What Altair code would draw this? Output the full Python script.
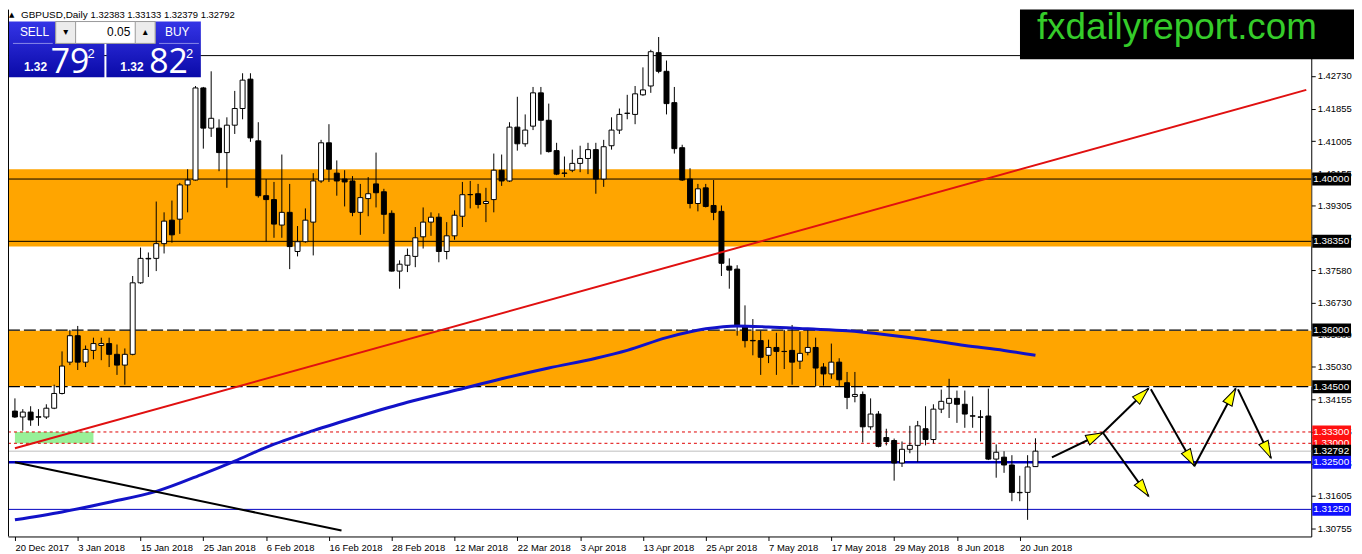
import math
import altair as alt
import pandas as pd

# ---------------- data ----------------
DATE_LABELS = ["20 Dec 2017", "3 Jan 2018", "15 Jan 2018", "25 Jan 2018", "6 Feb 2018",
               "16 Feb 2018", "28 Feb 2018", "12 Mar 2018", "22 Mar 2018", "3 Apr 2018",
               "13 Apr 2018", "25 Apr 2018", "7 May 2018", "17 May 2018", "29 May 2018",
               "8 Jun 2018", "20 Jun 2018"]
LABEL_STEP = 8

OPEN = [1.33853, 1.33697, 1.33827, 1.33690, 1.33697, 1.33930, 1.34320, 1.35150, 1.35850, 1.35150,
        1.35461, 1.35591, 1.35642, 1.35357, 1.35072, 1.35357, 1.37251, 1.37899, 1.37899, 1.38289,
        1.38911, 1.38937, 1.39845, 1.39974, 1.42413, 1.41349, 1.41349, 1.40701, 1.41427, 1.41868,
        1.42646, 1.41012, 1.39559, 1.39456, 1.38781, 1.39118, 1.38081, 1.38340, 1.38859, 1.39949,
        1.40960, 1.40156, 1.40000, 1.39949, 1.39118, 1.39482, 1.39871, 1.39663, 1.39092, 1.37562,
        1.37718, 1.37951, 1.38470, 1.38859, 1.38989, 1.38081, 1.38496, 1.39015, 1.39585, 1.39611,
        1.39352, 1.39456, 1.40234, 1.39949, 1.41375, 1.40934, 1.41401, 1.42283, 1.41557, 1.40753,
        1.40150, 1.40234, 1.40415, 1.40545, 1.40779, 1.40000, 1.40882, 1.41297, 1.41738, 1.41712,
        1.42231, 1.42465, 1.43347, 1.42854, 1.42024, 1.40830, 1.40000, 1.39352, 1.39767, 1.39300,
        1.39144, 1.37692, 1.37614, 1.36109, 1.35725, 1.35720, 1.35331, 1.35539, 1.35435, 1.35461,
        1.35176, 1.35409, 1.35539, 1.35020, 1.34838, 1.35150, 1.34605, 1.34242, 1.34294, 1.33437,
        1.33775, 1.33152, 1.33074, 1.32478, 1.32841, 1.32945, 1.33386, 1.33100, 1.33905, 1.34060,
        1.34190, 1.34034, 1.33728, 1.33700, 1.33723, 1.32582, 1.32633, 1.32426, 1.31700, 1.31700,
        1.32383]
HIGH = [1.34190, 1.33905, 1.33982, 1.33905, 1.34034, 1.34553, 1.35435, 1.36006, 1.36109, 1.35591,
        1.35798, 1.35798, 1.35798, 1.35617, 1.35513, 1.37432, 1.38185, 1.38055, 1.39404, 1.39118,
        1.39430, 1.39897, 1.40260, 1.42465, 1.42440, 1.42854, 1.41583, 1.41635, 1.42335, 1.42802,
        1.42802, 1.41505, 1.40000, 1.39923, 1.40649, 1.39871, 1.38755, 1.39222, 1.40156, 1.41038,
        1.41453, 1.40493, 1.40234, 1.40078, 1.39871, 1.40052, 1.40701, 1.39741, 1.39170, 1.37847,
        1.38159, 1.38729, 1.39248, 1.39118, 1.39092, 1.38859, 1.39170, 1.39923, 1.39949, 1.39871,
        1.39767, 1.40675, 1.40649, 1.41505, 1.42179, 1.41712, 1.42439, 1.42439, 1.41998, 1.40960,
        1.40597, 1.40779, 1.40882, 1.40960, 1.40960, 1.41038, 1.41635, 1.41868, 1.42231, 1.42465,
        1.42958, 1.43424, 1.43762, 1.43139, 1.42439, 1.40908, 1.40286, 1.39871, 1.39871, 1.39974,
        1.39300, 1.37899, 1.37718, 1.36654, 1.36291, 1.35980, 1.35746, 1.35928, 1.36006, 1.36135,
        1.35954, 1.36006, 1.35798, 1.35124, 1.35642, 1.35253, 1.34890, 1.34890, 1.34372, 1.34190,
        1.33853, 1.33386, 1.33126, 1.33048, 1.33463, 1.33593, 1.33982, 1.34034, 1.34423, 1.34709,
        1.34397, 1.34397, 1.34242, 1.33879, 1.34449, 1.32971, 1.32789, 1.32685, 1.32140, 1.32685,
        1.33133]
LOW = [1.33671, 1.33334, 1.33463, 1.33463, 1.33645, 1.33905, 1.34294, 1.35072, 1.34942, 1.35020,
       1.35227, 1.35201, 1.35020, 1.34812, 1.34553, 1.35331, 1.37225, 1.37406, 1.37562, 1.38029,
       1.38314, 1.38548, 1.39118, 1.39960, 1.40805, 1.41116, 1.40208, 1.39767, 1.41194, 1.41583,
       1.40986, 1.39508, 1.38340, 1.38444, 1.38444, 1.37614, 1.37951, 1.38314, 1.37977, 1.39897,
       1.39923, 1.39559, 1.39274, 1.39015, 1.38522, 1.39015, 1.39248, 1.38548, 1.37550, 1.37095,
       1.37536, 1.37666, 1.38159, 1.38496, 1.37795, 1.37873, 1.38392, 1.38729, 1.39222, 1.39222,
       1.38859, 1.39118, 1.39819, 1.39923, 1.40753, 1.40856, 1.41297, 1.40649, 1.40701, 1.40104,
       1.40052, 1.40182, 1.40182, 1.40130, 1.39611, 1.39793, 1.40779, 1.41194, 1.41583, 1.41453,
       1.42205, 1.42283, 1.42802, 1.41712, 1.40675, 1.39949, 1.39222, 1.39144, 1.39248, 1.38911,
       1.37432, 1.37095, 1.35850, 1.35539, 1.35331, 1.34812, 1.35124, 1.34812, 1.34968, 1.34553,
       1.34968, 1.35331, 1.34501, 1.34527, 1.34709, 1.34501, 1.33905, 1.34086, 1.33023, 1.33360,
       1.32893, 1.32945, 1.32011, 1.32374, 1.32737, 1.32504, 1.32945, 1.32997, 1.33801, 1.33671,
       1.33541, 1.33411, 1.33411, 1.33048, 1.32556, 1.32089, 1.32218, 1.31466, 1.31466, 1.30973,
       1.32379]
CLOSE = [1.33697, 1.33827, 1.33619, 1.33705, 1.33930, 1.34320, 1.35046, 1.35850, 1.35150, 1.35487,
         1.35642, 1.35642, 1.35357, 1.35072, 1.35357, 1.37251, 1.37899, 1.37885, 1.38289, 1.38885,
         1.38522, 1.39845, 1.39974, 1.42413, 1.41349, 1.41609, 1.40701, 1.41427, 1.41868, 1.42620,
         1.41090, 1.39559, 1.39456, 1.38807, 1.39118, 1.38211, 1.38340, 1.38911, 1.39949, 1.40960,
         1.40260, 1.39949, 1.39923, 1.39118, 1.39508, 1.39611, 1.39637, 1.39066, 1.37562, 1.37744,
         1.37977, 1.38444, 1.38859, 1.38989, 1.38081, 1.38496, 1.39041, 1.39585, 1.39590, 1.39326,
         1.39404, 1.40234, 1.39949, 1.41375, 1.40934, 1.41297, 1.42283, 1.41557, 1.40727, 1.40130,
         1.40160, 1.40415, 1.40545, 1.40779, 1.40000, 1.40856, 1.41297, 1.41712, 1.41745, 1.42257,
         1.42361, 1.43373, 1.42854, 1.41998, 1.40805, 1.39974, 1.39352, 1.39741, 1.39274, 1.39118,
         1.37769, 1.37588, 1.36109, 1.35720, 1.35715, 1.35279, 1.35539, 1.35435, 1.35430, 1.35150,
         1.35383, 1.35539, 1.34994, 1.34838, 1.35150, 1.34683, 1.34216, 1.34294, 1.33437, 1.33775,
         1.32919, 1.33048, 1.32478, 1.32841, 1.32945, 1.33463, 1.33100, 1.33905, 1.34112, 1.34190,
         1.34034, 1.33775, 1.33720, 1.33690, 1.32582, 1.32763, 1.32426, 1.31700, 1.31690, 1.32374,
         1.32792]

MA_BAR = [0, 6, 12, 18, 24, 28, 32, 38, 44, 50, 56, 62, 68, 74, 78, 83, 88, 92, 96, 101,
          106, 111, 116, 121, 126, 130]
MA_VAL = [1.30973, 1.31181, 1.31440, 1.31726, 1.32192, 1.32530, 1.32893, 1.33334, 1.33723, 1.34086,
          1.34397, 1.34709, 1.34994, 1.35253, 1.35461, 1.35798, 1.36032, 1.36109, 1.36083, 1.36032,
          1.35980, 1.35876, 1.35746, 1.35591, 1.35461, 1.35331]

TREND_BAR = [0, 164.5]
TREND_VAL = [1.32867, 1.42361]
DOWN_BAR = [0, 41.6]
DOWN_VAL = [1.3250, 1.3069]

ZONE_TOP = [1.4026, 1.3600]
ZONE_BOTTOM = [1.3821, 1.3450]
GREEN_BAR = [0, 10]
GREEN_VAL = [1.3330, 1.3300]

SOLID_LEVELS = [1.4327, 1.4000, 1.3835]
DASHED_LEVELS = [1.3600, 1.3450]
DOTTED_LEVELS = [1.3330, 1.3300]
CURRENT_PRICE = [1.32792]
SUPPORT_MAIN = [1.3250]
SUPPORT_LOW = [1.3125]

TAG_BLACK = [1.4000, 1.3835, 1.3600, 1.3450]
TAG_RED = [1.3330, 1.3300]
TAG_CURRENT = [1.32792]
TAG_BLUE = [1.3250, 1.3125]

Y_TICKS = [1.42730, 1.41855, 1.41005, 1.40155, 1.39305, 1.38455, 1.37580, 1.36730,
           1.35880, 1.35030, 1.34155, 1.33305, 1.32455, 1.31605, 1.30755]

ARROW_X0 = [132.1, 138.6, 138.6, 144.7, 150.25, 155.8]
ARROW_P0 = [1.3263, 1.3328, 1.3328, 1.3443, 1.3240, 1.3443]
ARROW_X1 = [138.6, 144.4, 144.4, 150.25, 155.5, 160.0]
ARROW_P1 = [1.3328, 1.3445, 1.3160, 1.3240, 1.3445, 1.3261]

TITLE_SYMBOL = "GBPUSD,Daily"
TITLE_QUOTES = "1.32383 1.33133 1.32379 1.32792"

# ---------------- layout ----------------
W, H = 1311, 530
X_DOMAIN = [-0.25, 164.5]
Y_DOMAIN = [1.30532, 1.44488]
PX_BAR = W / (X_DOMAIN[1] - X_DOMAIN[0])
PX_PRICE = H / (Y_DOMAIN[1] - Y_DOMAIN[0])

xs = alt.Scale(domain=X_DOMAIN, nice=False, zero=False)
ys = alt.Scale(domain=Y_DOMAIN, nice=False, zero=False)
FONT = "Liberation Sans"

label_expr = "[" + ",".join("'%s'" % s for s in DATE_LABELS) + "][round(datum.value/%d)]" % LABEL_STEP
x_axis = alt.Axis(orient="bottom", values=[i * LABEL_STEP for i in range(len(DATE_LABELS))],
                  labelExpr=label_expr, labelAlign="left", labelBaseline="top", labelPadding=2,
                  tickSize=4, title=None, labelOverlap=False, labelFlush=False, grid=False,
                  labelFont=FONT, labelFontSize=9.5, labelColor="black", domainColor="black",
                  tickColor="black")
y_axis = alt.Axis(orient="right", values=Y_TICKS, format=".5f", title=None, tickSize=4,
                  labelPadding=2, grid=False, labelFont=FONT, labelFontSize=9.5,
                  labelColor="black", domainColor="black", tickColor="black",
                  labelOverlap=False, labelFlush=False)


def X(f):
    return alt.X(f"{f}:Q", scale=xs, axis=x_axis)


def Y(f):
    return alt.Y(f"{f}:Q", scale=ys, axis=y_axis)


ONE = pd.DataFrame({"k": [0]})

candles = pd.DataFrame({"bar": list(range(len(OPEN))), "open": OPEN, "high": HIGH,
                        "low": LOW, "close": CLOSE})

layers = []

# orange zones
zones = pd.DataFrame({"top": ZONE_TOP, "bottom": ZONE_BOTTOM})
layers.append(alt.Chart(zones).mark_rect(color="#FFA500").encode(
    x=alt.value(0), x2=alt.value(W), y=Y("top"), y2=alt.Y2("bottom")))

# green zone
green = pd.DataFrame({"b0": [GREEN_BAR[0]], "b1": [GREEN_BAR[1]],
                      "p0": [GREEN_VAL[0]], "p1": [GREEN_VAL[1]]})
layers.append(alt.Chart(green).mark_rect(color="#98F098").encode(
    x=X("b0"), x2=alt.X2("b1"), y=Y("p0"), y2=alt.Y2("p1")))


def hlines(levels, **kw):
    df = pd.DataFrame({"price": levels})
    return alt.Chart(df).mark_rule(**kw).encode(x=alt.value(0), x2=alt.value(W), y=Y("price"))


layers.append(hlines(SOLID_LEVELS, color="black", strokeWidth=1))
layers.append(hlines(DASHED_LEVELS, color="white", strokeWidth=1.2))
layers.append(hlines(DASHED_LEVELS, color="black", strokeWidth=1.2, strokeDash=[12, 4]))
layers.append(hlines(DOTTED_LEVELS, color="#e00000", strokeWidth=1, strokeDash=[3, 3]))
layers.append(hlines(CURRENT_PRICE, color="#bdbdbd", strokeWidth=1))
layers.append(hlines(SUPPORT_MAIN, color="#0000c0", strokeWidth=2.5))
layers.append(hlines(SUPPORT_LOW, color="#0000c0", strokeWidth=1))

# candles
layers.append(alt.Chart(candles).mark_rule(color="black", strokeWidth=1).encode(
    x=X("bar"), y=Y("low"), y2=alt.Y2("high")))
layers.append(alt.Chart(candles).mark_bar(width=5, stroke="black", strokeWidth=1).encode(
    x=X("bar"), y=Y("open"), y2=alt.Y2("close"),
    fill=alt.condition("datum.close >= datum.open", alt.value("white"), alt.value("black"))))

# moving average, trend lines
ma = pd.DataFrame({"bar": MA_BAR, "val": MA_VAL})
layers.append(alt.Chart(ma).mark_line(color="#1212c8", strokeWidth=3, interpolate="monotone").encode(
    x=X("bar"), y=Y("val")))
trend = pd.DataFrame({"bar": TREND_BAR, "val": TREND_VAL})
layers.append(alt.Chart(trend).mark_line(color="#e01010", strokeWidth=2).encode(
    x=X("bar"), y=Y("val")))
down = pd.DataFrame({"bar": DOWN_BAR, "val": DOWN_VAL})
layers.append(alt.Chart(down).mark_line(color="black", strokeWidth=2).encode(
    x=X("bar"), y=Y("val")))

# arrows
HEAD_SIZE = 300
head_r = math.sqrt(HEAD_SIZE) / 2
rows = []
for x0, p0, x1, p1 in zip(ARROW_X0, ARROW_P0, ARROW_X1, ARROW_P1):
    dx = (x1 - x0) * PX_BAR
    dy = -(p1 - p0) * PX_PRICE
    ln = math.hypot(dx, dy)
    ux, uy = dx / ln, dy / ln
    ang = math.degrees(math.atan2(dx, -dy)) % 360
    rows.append({"x0": x0, "p0": p0, "x1": x1, "p1": p1,
                 "hx": x1 - head_r * ux / PX_BAR, "hp": p1 + head_r * uy / PX_PRICE,
                 "ang": ang})
arrows = pd.DataFrame(rows)
layers.append(alt.Chart(arrows).mark_rule(color="black", strokeWidth=2).encode(
    x=X("x0"), x2=alt.X2("x1"), y=Y("p0"), y2=alt.Y2("p1")))
layers.append(alt.Chart(arrows).mark_point(
    shape="M0,-1L0.6,1L-0.6,1Z", filled=True, fill="#FFFF00", stroke="black",
    strokeWidth=1, size=HEAD_SIZE, opacity=1).encode(
    x=X("hx"), y=Y("hp"), angle=alt.Angle("ang:Q", scale=None)))

# left border
layers.append(alt.Chart(ONE).mark_rule(color="black", strokeWidth=1).encode(
    x=alt.value(0.5), y=alt.value(0), y2=alt.value(H)))

# right price tags
TAG_HALF = 6.5 / PX_PRICE
tags = pd.DataFrame({
    "price": TAG_BLACK + TAG_RED + TAG_CURRENT + TAG_BLUE,
    "kind": (["line"] * len(TAG_BLACK) + ["alert"] * len(TAG_RED)
             + ["line"] * len(TAG_CURRENT) + ["support"] * len(TAG_BLUE)),
})
tags["top"] = tags["price"] + TAG_HALF
tags["bottom"] = tags["price"] - TAG_HALF
tags["label"] = tags["price"].map(lambda v: f"{v:.5f}")
tags["order"] = range(len(tags))
for _, r in tags.iterrows():
    one = tags.iloc[[_]]
    col = {"line": "black", "alert": "#ff1010", "support": "#1010ff"}[r["kind"]]
    layers.append(alt.Chart(one).mark_rect(color=col).encode(
        x=alt.value(W + 1), x2=alt.value(W + 40), y=Y("top"), y2=alt.Y2("bottom")))
    layers.append(alt.Chart(one).mark_text(align="left", baseline="middle", color="white",
                                           font=FONT, fontSize=10).encode(
        x=alt.value(W + 2), y=Y("price"), text="label:N"))


# ---------------- overlays (logo, trade panel, title) ----------------
def box(x, x2, y, y2, **kw):
    return alt.Chart(ONE).mark_rect(**kw).encode(
        x=alt.value(x), x2=alt.value(x2), y=alt.value(y), y2=alt.value(y2))


def txt(s, x, y, **kw):
    kw.setdefault("font", FONT)
    return alt.Chart(ONE).mark_text(text=s, **kw).encode(x=alt.value(x), y=alt.value(y))


def seg(x, x2, y, **kw):
    return alt.Chart(ONE).mark_rule(**kw).encode(
        x=alt.value(x), x2=alt.value(x2), y=alt.value(y))


layers.append(box(1018, 1354, 0, 50, color="black"))
layers.append(txt("fxdailyreport.com", 1035, 30, align="left", baseline="alphabetic",
                  fontSize=37, color="#35cc2a"))

blue_grad = alt.Gradient(gradient="linear",
                         stops=[alt.GradientStop(color="#3434e6", offset=0),
                                alt.GradientStop(color="#0a0aa8", offset=1)],
                         x1=0, x2=0, y1=0, y2=1)
layers.append(box(1, 97, 12, 68, color=blue_grad))
layers.append(box(99, 194, 12, 68, color=blue_grad))
layers.append(seg(5, 45, 34, color="#8a8ae8", strokeWidth=1))
layers.append(seg(152, 192, 34, color="#8a8ae8", strokeWidth=1))
layers.append(box(48, 148, 12, 34, color="white", stroke="#9a9a9a", strokeWidth=1))
layers.append(box(48, 68, 12, 34, color="#ececec", stroke="#9a9a9a", strokeWidth=1))
layers.append(box(128, 148, 12, 34, color="#ececec", stroke="#9a9a9a", strokeWidth=1))
layers.append(txt("▾", 58, 23, align="center", baseline="middle", fontSize=10, color="black",
                  font="DejaVu Sans"))
layers.append(txt("▴", 138, 23, align="center", baseline="middle", fontSize=10, color="black",
                  font="DejaVu Sans"))
layers.append(txt("0.05", 123, 23, align="right", baseline="middle", fontSize=12, color="black"))
layers.append(txt("SELL", 12, 23, align="left", baseline="middle", fontSize=12, color="white"))
layers.append(txt("BUY", 158, 23, align="left", baseline="middle", fontSize=12, color="white"))
for px, big, sup, x0 in [(16, "79", "2", 43), (113, "82", "2", 142)]:
    layers.append(txt("1.32", px, 62, align="left", baseline="alphabetic", fontSize=12,
                      fontWeight="bold", color="white"))
    layers.append(txt(big, x0, 64, align="left", baseline="alphabetic", fontSize=34,
                      color="white", font="Open Sans"))
    layers.append(txt(sup, x0 + 37, 49, align="left", baseline="alphabetic", fontSize=13,
                      color="white"))

layers.append(txt("▲", 1, 5, align="left", baseline="middle", fontSize=7, color="black",
                  font="DejaVu Sans"))
layers.append(txt(TITLE_SYMBOL, 13, 5, align="left", baseline="middle", fontSize=10, color="black"))
layers.append(txt(TITLE_QUOTES, 83, 5, align="left", baseline="middle", fontSize=9.5, color="black"))

chart = alt.layer(*layers).properties(
    width=W, height=H,
    padding={"left": 0, "top": 0, "right": 43, "bottom": 16},
    autosize=alt.AutoSizeParams(type="none"),
    background="white",
).configure_view(stroke=None)

chart.save("out.html", embed_options={"renderer": "svg", "actions": False})
